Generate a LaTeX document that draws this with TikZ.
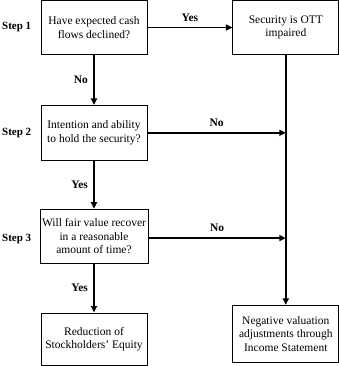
\documentclass[tikz,border=0pt]{standalone}
\usepackage{fontspec}
\setmainfont{Liberation Serif}
\usepackage{tikz}
\usetikzlibrary{arrows.meta,positioning}

\begin{document}
\begin{tikzpicture}[
x=1pt, y=1pt,
font=\fontsize{11.5}{13.5}\selectfont,
node distance=50pt and 85pt,
box/.style={draw, line width=0.8pt, minimum width=106pt, minimum height=54pt, align=center, inner sep=2pt},
arr/.style={-{Triangle[length=6.5pt,width=6pt]}, line width=1.6pt},
steplbl/.style={font=\fontsize{11}{13}\selectfont\bfseries, anchor=west, inner sep=0pt},
lbl/.style={font=\fontsize{11.5}{13.5}\selectfont\bfseries}
]
\useasboundingbox (0,0) rectangle (339,-366);
\node[box] (cash) at (94,-27.5) {Have expected cash\\flows declined?};
\node[box, right=of cash] (ott) {Security is OTT\\impaired};
\node[box, below=50pt of cash, minimum height=55pt] (hold) {Intention and ability\\to hold the security?};
\node[box, below=48pt of hold] (recover) {Will fair value recover\\in a reasonable\\amount of time?};
\node[box, below=49pt of recover, minimum height=52.5pt] (equity) {Reduction of\\Stockholders' Equity};
\node[box, below=250pt of ott, minimum height=57.5pt] (income) {Negative valuation\\adjustments through\\Income Statement};

\node[steplbl] (s1) at (2,0 |- cash.west) {Step 1};
\node[steplbl] (s2) at (2,0 |- hold.west) {Step 2};
\node[steplbl, yshift=-3pt] (s3) at (2,0 |- recover.west) {Step 3};

\draw[arr] (cash) -- node[lbl, above=2pt] {Yes} (ott);
\draw[arr] (cash) -- node[lbl, left=2pt] {No} (hold);
\draw[arr] (hold) -- node[lbl, left=2pt] {Yes} (recover);
\draw[arr] (recover) -- node[lbl, left=2pt] {Yes} (equity);
\draw[arr] (ott) -- (income);
\draw[arr] (hold.east) -- node[lbl, above=2pt] {No} (hold.east -| ott.south);
\draw[arr] ([yshift=-2pt]recover.east) -- node[lbl, above=2pt] {No} ([yshift=-2pt]recover.east -| ott.south);
\end{tikzpicture}
\end{document}
